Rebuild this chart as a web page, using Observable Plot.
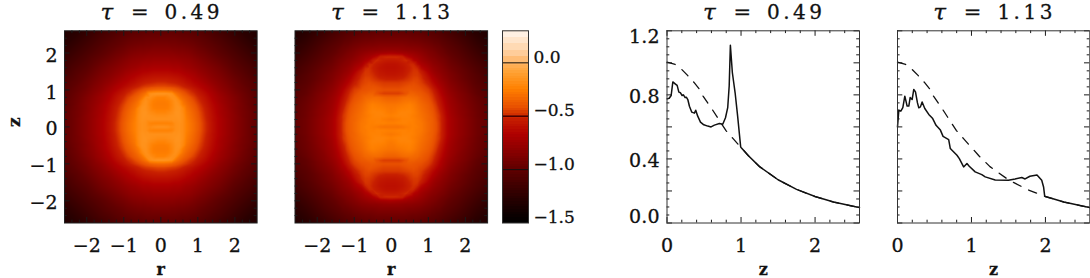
<!DOCTYPE html>
<html><head><meta charset="utf-8">
<script src="https://cdn.jsdelivr.net/npm/d3@7"></script>
<script src="https://cdn.jsdelivr.net/npm/@observablehq/plot@0.6"></script>
<style>
html,body{margin:0;padding:0;background:#fff}
#fig{position:relative;width:1090px;height:278px;overflow:hidden}
#fig svg{position:absolute;top:0;overflow:visible}
#fig text{stroke:#111;stroke-width:.3px}
.ttl text,.ttl{letter-spacing:3.5px}
.ylab text,.ylab{letter-spacing:.3px}
</style></head><body><div id="fig"></div>
<script>
// ---- colour stops
const colorDomain=[-1.5,-1.25,-1.0,-.85,-.67,-.52,-.42,-.25,-.1,0,.1,.3];
const colorRange=["#000000","#2c0000","#600000","#850000","#b00000","#c82000","#e85000","#ff8000","#ffa030","#ffb565","#ffd0a0","#fff6ee"];
// ---- colour bar band edges
const barEdges=[-1.5,-1.475,-1.45,-1.425,-1.4,-1.375,-1.35,-1.325,-1.3,-1.275,-1.25,-1.225,-1.2,-1.175,-1.15,-1.125,-1.1,-1.075,-1.05,-1.025,-1,-.975,-.95,-.925,-.9,-.875,-.85,-.825,-.8,-.775,-.75,-.725,-.7,-.675,-.65,-.625,-.6,-.575,-.55,-.525,-.5,-.475,-.45,-.425,-.4,-.375,-.35,-.325,-.3,-.275,-.25,-.225,-.2,-.175,-.15,-.125,-.1,-.075,-.05,-.025,0,.06,.12,.18,.24,.3];
const barLines=[0,-.5,-1];
// ---- tau = 0.49 map (one quadrant; the picture is mirror symmetric)
const r1=[0,.1,.2,.3,.4,.5,.6,.7,.8,.9,1,1.2,1.4,1.6,1.8,2,2.2,2.4,2.6];
const z1=[0,.1,.2,.3,.4,.5,.6,.7,.8,.9,1,1.1,1.2,1.4,1.6,1.8,2,2.2,2.4,2.6];
const map1=[
[-.17,-.17,-.18,-.20,-.18,-.17,-.19,-.25,-.29,-.33,-.38,-.49,-.60,-.69,-.76,-.83,-.89,-.95,-1.0],
[-.24,-.24,-.24,-.23,-.18,-.17,-.19,-.25,-.29,-.33,-.38,-.49,-.60,-.69,-.76,-.83,-.89,-.95,-1.0],
[-.17,-.17,-.17,-.17,-.17,-.16,-.19,-.26,-.30,-.34,-.39,-.50,-.61,-.69,-.76,-.83,-.89,-.95,-1.0],
[-.19,-.19,-.18,-.17,-.16,-.16,-.19,-.27,-.31,-.35,-.40,-.51,-.61,-.70,-.77,-.83,-.90,-.95,-1.0],
[-.23,-.23,-.21,-.19,-.16,-.16,-.20,-.28,-.32,-.36,-.41,-.52,-.62,-.71,-.77,-.84,-.90,-.95,-1.01],
[-.26,-.26,-.25,-.21,-.17,-.16,-.21,-.30,-.34,-.38,-.43,-.53,-.63,-.71,-.78,-.85,-.91,-.96,-1.01],
[-.27,-.27,-.26,-.22,-.17,-.18,-.27,-.32,-.36,-.40,-.45,-.55,-.64,-.72,-.79,-.85,-.91,-.97,-1.02],
[-.26,-.26,-.25,-.21,-.17,-.21,-.30,-.35,-.39,-.43,-.48,-.57,-.66,-.74,-.80,-.86,-.92,-.97,-1.02],
[-.24,-.24,-.21,-.18,-.19,-.29,-.34,-.38,-.42,-.46,-.51,-.59,-.68,-.75,-.81,-.87,-.93,-.98,-1.03],
[-.15,-.15,-.16,-.18,-.29,-.34,-.39,-.43,-.47,-.50,-.55,-.62,-.70,-.77,-.83,-.89,-.94,-.99,-1.04],
[-.33,-.33,-.34,-.36,-.39,-.42,-.45,-.48,-.51,-.55,-.59,-.66,-.73,-.80,-.85,-.91,-.96,-1.0,-1.05],
[-.44,-.44,-.45,-.46,-.47,-.49,-.52,-.55,-.58,-.61,-.64,-.69,-.76,-.82,-.87,-.93,-.97,-1.02,-1.06],
[-.50,-.50,-.51,-.52,-.53,-.55,-.57,-.60,-.62,-.65,-.67,-.73,-.79,-.84,-.89,-.94,-.99,-1.03,-1.08],
[-.60,-.60,-.60,-.61,-.62,-.63,-.65,-.67,-.69,-.71,-.74,-.79,-.84,-.88,-.93,-.98,-1.02,-1.07,-1.11],
[-.69,-.69,-.69,-.70,-.71,-.71,-.73,-.75,-.76,-.78,-.80,-.84,-.88,-.92,-.97,-1.02,-1.06,-1.10,-1.15],
[-.76,-.76,-.76,-.77,-.77,-.78,-.79,-.80,-.81,-.83,-.85,-.89,-.93,-.97,-1.01,-1.06,-1.10,-1.14,-1.18],
[-.83,-.83,-.83,-.83,-.84,-.85,-.85,-.86,-.87,-.89,-.91,-.94,-.98,-1.02,-1.06,-1.10,-1.14,-1.18,-1.22],
[-.89,-.89,-.89,-.90,-.90,-.91,-.91,-.92,-.93,-.94,-.96,-.99,-1.02,-1.06,-1.10,-1.14,-1.18,-1.22,-1.26],
[-.95,-.95,-.95,-.95,-.95,-.96,-.97,-.97,-.98,-.99,-1.0,-1.03,-1.07,-1.10,-1.14,-1.18,-1.22,-1.26,-1.29],
[-1.0,-1.0,-1.0,-1.0,-1.01,-1.01,-1.02,-1.02,-1.03,-1.04,-1.05,-1.08,-1.11,-1.15,-1.18,-1.22,-1.26,-1.29,-1.32]];
// ---- tau = 1.13 map (one quadrant)
const r2=[0,.1,.2,.3,.4,.5,.6,.7,.8,1,1.1,1.2,1.3,1.4,1.5,1.6,1.8,2,2.3,2.6];
const z2=[0,.1,.2,.3,.4,.6,.8,.9,1,1.2,1.3,1.4,1.5,1.6,1.7,1.8,1.9,2,2.1,2.2,2.4,2.6];
const map2=[
[-.30,-.30,-.30,-.29,-.27,-.26,-.25,-.26,-.28,-.34,-.37,-.41,-.47,-.56,-.65,-.71,-.78,-.84,-.93,-.99],
[-.25,-.25,-.24,-.24,-.24,-.25,-.25,-.27,-.28,-.34,-.37,-.41,-.47,-.56,-.65,-.71,-.78,-.84,-.93,-.99],
[-.28,-.27,-.26,-.24,-.24,-.24,-.25,-.27,-.29,-.35,-.37,-.42,-.48,-.56,-.65,-.71,-.78,-.84,-.93,-.99],
[-.25,-.24,-.23,-.23,-.23,-.24,-.26,-.28,-.30,-.35,-.38,-.43,-.48,-.57,-.66,-.72,-.79,-.85,-.94,-1.0],
[-.27,-.26,-.24,-.23,-.23,-.23,-.25,-.28,-.31,-.36,-.39,-.44,-.50,-.59,-.67,-.73,-.80,-.85,-.94,-1.0],
[-.29,-.29,-.28,-.27,-.26,-.25,-.27,-.30,-.33,-.38,-.42,-.47,-.55,-.63,-.70,-.75,-.81,-.87,-.95,-1.01],
[-.36,-.36,-.35,-.33,-.32,-.32,-.33,-.34,-.37,-.42,-.46,-.52,-.60,-.67,-.73,-.77,-.84,-.89,-.97,-1.03],
[-.46,-.46,-.46,-.44,-.41,-.36,-.36,-.38,-.39,-.44,-.48,-.55,-.63,-.70,-.75,-.79,-.85,-.90,-.99,-1.04],
[-.42,-.42,-.42,-.41,-.40,-.39,-.40,-.41,-.42,-.46,-.51,-.59,-.66,-.72,-.77,-.81,-.87,-.92,-1.0,-1.05],
[-.47,-.47,-.47,-.46,-.45,-.44,-.43,-.44,-.46,-.54,-.62,-.68,-.73,-.77,-.81,-.85,-.90,-.95,-1.03,-1.08],
[-.53,-.53,-.52,-.51,-.49,-.47,-.45,-.45,-.48,-.59,-.66,-.71,-.76,-.80,-.83,-.87,-.92,-.97,-1.04,-1.10],
[-.57,-.57,-.56,-.55,-.52,-.49,-.47,-.47,-.50,-.63,-.70,-.75,-.78,-.82,-.85,-.88,-.93,-.98,-1.05,-1.11],
[-.59,-.59,-.58,-.57,-.54,-.51,-.48,-.48,-.54,-.68,-.74,-.78,-.81,-.84,-.87,-.90,-.95,-.99,-1.07,-1.13],
[-.60,-.60,-.59,-.58,-.55,-.52,-.49,-.51,-.63,-.72,-.77,-.80,-.83,-.86,-.89,-.92,-.96,-1.01,-1.08,-1.14],
[-.59,-.59,-.58,-.56,-.54,-.51,-.51,-.62,-.69,-.76,-.80,-.83,-.85,-.88,-.91,-.94,-.98,-1.03,-1.10,-1.16],
[-.55,-.55,-.54,-.52,-.50,-.55,-.65,-.69,-.74,-.80,-.83,-.85,-.88,-.90,-.93,-.96,-1.0,-1.05,-1.12,-1.18],
[-.50,-.50,-.51,-.53,-.63,-.68,-.72,-.74,-.77,-.83,-.86,-.88,-.90,-.93,-.95,-.98,-1.02,-1.07,-1.14,-1.20],
[-.70,-.71,-.72,-.73,-.74,-.76,-.77,-.79,-.81,-.86,-.88,-.90,-.93,-.95,-.98,-1.0,-1.04,-1.09,-1.16,-1.22],
[-.80,-.80,-.80,-.81,-.82,-.82,-.83,-.84,-.85,-.89,-.91,-.93,-.95,-.97,-1.0,-1.02,-1.06,-1.11,-1.18,-1.24],
[-.85,-.85,-.85,-.85,-.86,-.87,-.87,-.88,-.89,-.92,-.94,-.96,-.97,-1.0,-1.02,-1.04,-1.08,-1.13,-1.20,-1.25],
[-.93,-.93,-.93,-.93,-.93,-.94,-.95,-.95,-.96,-.98,-1.0,-1.01,-1.03,-1.05,-1.07,-1.09,-1.13,-1.17,-1.24,-1.29],
[-.99,-.99,-.99,-.99,-1.0,-1.0,-1.01,-1.01,-1.02,-1.04,-1.05,-1.06,-1.08,-1.10,-1.12,-1.14,-1.18,-1.22,-1.28,-1.32]];
// ---- profiles
const tailZ=[1,1.1,1.25,1.5,1.75,2,2.25,2.5,2.6];
const tailY=[.472,.42,.352,.27,.21,.165,.131,.106,.096];
const dashZ=[0,.11,.2,.281,.362,.434,.487,.55,.618,.685,.797,.887,.964];
const dashY=[1.004,.99,.958,.92,.879,.838,.792,.75,.704,.656,.577,.53,.49];
const solidAZ=[.002,.03,.056,.079,.11,.137,.16,.182,.204,.222,.245,.263,.281,.303,.335,.37,.388,.415,.452,.497,.55,.595,.64,.708,.753,.79,.82,.84,.856,.883,.92,.954,.995];
const solidAY=[.775,.779,.796,.881,.869,.859,.817,.813,.796,.80,.783,.785,.771,.729,.692,.686,.704,.667,.63,.613,.605,.60,.611,.621,.617,.657,.72,.855,1.11,.938,.813,.667,.475];
const solidBZ=[0,.009,.018,.045,.072,.099,.117,.13,.153,.171,.198,.22,.243,.27,.288,.31,.333,.369,.423,.476,.521,.58,.616,.692,.714,.804,.836,.894,.939,.97,1.05,1.14,1.186,1.321,1.5,1.59,1.68,1.725,1.79,1.886,1.95,1.975,1.99];
const solidBY=[.60,.652,.705,.698,.72,.792,.756,.73,.73,.783,.771,.834,.819,.75,.719,.725,.756,.715,.678,.652,.61,.58,.541,.521,.465,.423,.402,.35,.371,.354,.319,.302,.288,.269,.267,.275,.284,.275,.292,.30,.267,.225,.168];
// ---- axes
const mapMajor=[-2,-1,0,1,2];
const mapMinor=[-2.4,-2.2,-1.8,-1.6,-1.4,-1.2,-.8,-.6,-.4,-.2,.2,.4,.6,.8,1.2,1.4,1.6,1.8,2.2,2.4];
const zMajor=[0,1,2];
const zMinor=[.2,.4,.6,.8,1.2,1.4,1.6,1.8,2.2,2.4];
const yMajor=[.2,.4,.6,.8,1,.0,1.2];
const yMinor=[.05,.1,.15,.25,.3,.35,.45,.5,.55,.65,.7,.75,.85,.9,.95,1.05,1.1,1.15];
const barLabels=[0,-.5,-1,-1.5];
const titles=["0.49","1.13"];

const FONT="DejaVu Serif",FS=19,frameTop=30.3,frameBot=222.5,H=278;
const fig=document.getElementById("fig");
const colorOpt={type:"linear",domain:colorDomain,range:colorRange};
function add(left,width,frameL,frameR,xdom,ydom,marks){
  const ml=frameL-left,mr=left+width-frameR;
  const svg=Plot.plot({width,height:H,marginLeft:ml,marginRight:mr,marginTop:frameTop,marginBottom:H-frameBot,
    x:{domain:xdom,axis:null},y:{domain:ydom,axis:null},color:colorOpt,
    style:{background:"transparent",fontFamily:FONT,fontSize:FS+"px",color:"#111"},marks});
  svg.style.left=left+"px";fig.appendChild(svg);
}
const W=192.5,HH=frameBot-frameTop,TM=5.5,Tm=2.8,ink="#1a1a1a";
function xTicks(maj,min){return[
  Plot.tickX(maj,{x:d=>d,insetTop:HH-TM,stroke:ink}),Plot.tickX(maj,{x:d=>d,insetBottom:HH-TM,stroke:ink}),
  Plot.tickX(min,{x:d=>d,insetTop:HH-Tm,stroke:ink}),Plot.tickX(min,{x:d=>d,insetBottom:HH-Tm,stroke:ink})];}
function yTicks(maj,min){return[
  Plot.tickY(maj,{y:d=>d,insetLeft:W-TM,stroke:ink}),Plot.tickY(maj,{y:d=>d,insetRight:W-TM,stroke:ink}),
  Plot.tickY(min,{y:d=>d,insetLeft:W-Tm,stroke:ink}),Plot.tickY(min,{y:d=>d,insetRight:W-Tm,stroke:ink})];}
function title(t){return[
  Plot.text(["τ"],{frameAnchor:"top",lineAnchor:"middle",dy:-18.3,dx:-54,fontSize:23,fontStyle:"italic",fill:"#111"}),
  Plot.text(["="],{frameAnchor:"top",lineAnchor:"middle",dy:-18.3,dx:-21,fontSize:21,fill:"#111"}),
  Plot.text([t],{frameAnchor:"top",lineAnchor:"middle",dy:-18.3,dx:33,fontSize:20,fill:"#111",className:"ttl"})];}
function xLabels(vals){return Plot.axisX(vals,{anchor:"bottom",tickSize:0,tickPadding:15,label:null,fontSize:FS,fill:"#111",tickFormat:d=>String(d).replace("-","\u2212")});}
const xName=t=>Plot.text([t],{frameAnchor:"bottom",lineAnchor:"middle",dy:46.5,fontSize:16,fontWeight:"bold",fill:"#111"});
function mirror(rs,zs,g){const p=[];
  zs.forEach((z,j)=>rs.forEach((r,i)=>{const v=g[j][i];
    for(const sr of r>0?[1,-1]:[1])for(const sz of z>0?[1,-1]:[1])p.push({r:sr*r,z:sz*z,v});}));
  return p;}
function heat(left,width,fl,fr,t,rs,zs,g,extra){
  add(left,width,fl,fr,[-2.6,2.6],[-2.6,2.6],[
    Plot.raster(mirror(rs,zs,g),{x:"r",y:"z",fill:"v",interpolate:"barycentric",pixelSize:1}),
    ...xTicks(mapMajor,mapMinor),...yTicks(mapMajor,mapMinor),
    Plot.frame({stroke:"#222",strokeWidth:1}),
    ...title(t),xLabels(mapMajor),xName("r"),...extra]);
}
heat(0,280,64,256.6,titles[0],r1,z1,map1,[
  Plot.axisY(mapMajor,{anchor:"left",tickSize:0,tickPadding:7,dy:2.5,label:null,fontSize:FS,fill:"#111",tickFormat:d=>String(d).replace("-","\u2212")}),
  Plot.text(["z"],{frameAnchor:"left",dx:-50,rotate:-90,fontSize:17,fontWeight:"bold",fill:"#111"})]);
heat(280,215,294.5,487.1,titles[1],r2,z2,map2,[]);
// colour bar
add(495,95,502,528,[0,1],[-1.5,.3],[
  Plot.rect(d3.pairs(barEdges),{x1:0,x2:1,y1:d=>d[0],y2:d=>d[1],fill:d=>(d[0]+d[1])/2,shapeRendering:"crispEdges"}),
  Plot.ruleY(barLines,{y:d=>d,stroke:d=>d==-.5?"#4a0000":"#111",strokeWidth:d=>d==-.5?1.6:1}),
  Plot.frame({stroke:"#333",strokeWidth:1}),
  Plot.axisY(barLabels,{anchor:"right",tickSize:0,tickPadding:5,dy:-5.5,label:null,fontSize:17,fill:"#111",tickFormat:d=>d3.format(".1f")(d).replace("-","\u2212")})
]);
const pairs=(zs,ys)=>zs.map((z,i)=>[z,ys[i]]);
function prof(left,width,fl,fr,t,sz,sy,tailFrom,extra){
  add(left,width,fl,fr,[0,2.6],[0,1.2],[
    ...xTicks(zMajor,zMinor),...yTicks(yMajor,yMinor),
    Plot.line(pairs(dashZ.concat(tailZ),dashY.concat(tailY)),{stroke:"#111",strokeWidth:1.3,strokeDasharray:"8.5,8.5"}),
    Plot.line(pairs(sz.concat(tailZ.slice(tailFrom)),sy.concat(tailY.slice(tailFrom))),{stroke:"#111",strokeWidth:1.5}),
    Plot.frame({stroke:"#333",strokeWidth:1}),
    ...title(t),xLabels(zMajor),xName("z"),...extra]);
}
const yf=d=>d3.format(".1f")(d);
const ya=(vals,dy)=>Plot.axisY(vals,{anchor:"left",tickSize:0,tickPadding:7,dy,label:null,fontSize:FS,fill:"#111",tickFormat:yf,className:"ylab"});
prof(600,262,666.5,859,titles[0],solidAZ,solidAY,0,[ya([.4,.8],2),ya([0],-6),ya([1.2],6)]);
prof(880,210,897,1089.3,titles[1],solidBZ,solidBY,5,[]);
</script></body></html>
